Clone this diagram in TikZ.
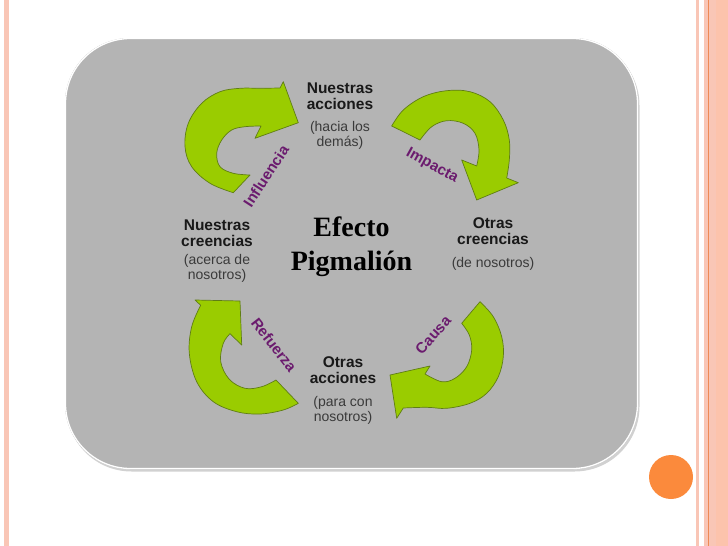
\documentclass[tikz,border=0pt]{standalone}
\usepackage{fontspec}
\setmainfont{Liberation Sans}
\newfontfamily\timesf{Liberation Serif}
\definecolor{bggray}{HTML}{B4B4B4}
\definecolor{arrowgreen}{HTML}{9ACC00}
\definecolor{arrowedge}{HTML}{5F7D14}
\definecolor{lblpurple}{HTML}{6B1B6E}
\definecolor{stripepink}{HTML}{F9C6B6}
\definecolor{stripesalmon}{HTML}{FCC3AC}
\definecolor{stripeorange}{HTML}{EE8A55}
\definecolor{dotorange}{HTML}{FB8A3C}
\definecolor{subgray}{HTML}{3A3A3A}
\begin{document}
\begin{tikzpicture}[x=1pt,y=-1pt,
  cyclearrow/.style={fill=arrowgreen,draw=arrowedge,line width=0.7pt,line join=round},
  headtext/.style={font=\bfseries\fontsize{15.5}{15.5}\selectfont,text=black!90,align=center,inner sep=0pt},
  subtext/.style={font=\fontsize{14}{15}\selectfont,text=subgray,align=center,inner sep=0pt},
  verbtext/.style={font=\bfseries\fontsize{15}{15}\selectfont,text=lblpurple,inner sep=0pt},
  titletext/.style={font=\timesf\bfseries\fontsize{28}{34}\selectfont,align=center,inner sep=0pt}]
\useasboundingbox (0,0) rectangle (728,546);
% page decorations
\fill[stripepink] (4,0) rectangle (9,546);
\fill[stripepink] (696,0) rectangle (699,546);
\fill[stripepink] (704,0) rectangle (716,546);
\fill[stripesalmon] (716,0) rectangle (728,546);
\fill[stripeorange] (708,0) rectangle (709.4,546);
\fill[dotorange] (671,477) circle[radius=22];
% gray panel
\fill[black!45,opacity=0.4,rounded corners=65pt] (66.5,40.5) rectangle (639.5,471.5);
\fill[bggray,rounded corners=65pt] (65,38) rectangle (638,469);
\draw[white,line width=1.3pt,rounded corners=65pt] (65.5,38.5) rectangle (637.5,468.5);
% arrows
\draw[cyclearrow] plot[smooth,tension=0.6] coordinates {(233.3,192.7) (210,183.3) (191.7,166.7) (185,146.7) (188.3,123.3) (201.7,103.3) (220,91.7) (240,88.3) (260,88.3) (280,88)}
  -- (283.3,81.7) -- (298.3,122.7) -- (255,138.3)
  -- plot[smooth,tension=0.6] coordinates {(261,126) (245,126.7) (231.7,130) (221.7,140) (216.7,153.3) (220,166.7) (233.3,173.3) (250,175)} -- cycle;
\draw[cyclearrow] plot[smooth,tension=0.6] coordinates {(391.7,126) (403.3,110) (423.3,96.7) (446.7,90.7) (470,91.7) (490,101.7) (503.3,120) (509.3,140) (509.3,160) (506.7,178)}
  -- (518.3,182.7) -- (476.7,200) -- (461.7,160)
  -- plot[smooth,tension=0.6] coordinates {(476.7,166) (479,150) (475,133.3) (463.3,123.3) (446.7,120.7) (431.7,126.7) (420,140)} -- cycle;
\draw[cyclearrow] plot[smooth,tension=0.6] coordinates {(480,301.7) (493.3,316.7) (501.7,336.7) (503.3,356.7) (498.3,376.7) (486.7,393.3) (470,403.3) (446.7,408.3) (426.7,407.3) (403.3,408)}
  -- (396.7,418.3) -- (390,375) -- (430,366)
  -- plot[smooth,tension=0.6] coordinates {(425,374) (441.7,381.7) (455,378.3) (466.7,366.7) (471.7,350) (469.3,335) (461.7,323.3)} -- cycle;
\draw[cyclearrow] plot[smooth,tension=0.6] coordinates {(298.3,403.3) (283.3,410) (260,414) (236.7,411.7) (213.3,401.7) (196.7,381.7) (189.3,353.3) (191.7,326.7) (200.7,305.3)}
  -- (195,300) -- (240,301) -- (241.7,345)
  -- plot[smooth,tension=0.6] coordinates {(230,333.7) (223.3,343.3) (220.7,361.7) (229.3,379.3) (245,388.3) (261.7,386.7) (276,380)} -- cycle;
% texts
\node[headtext] (na) at (340,96) {Nuestras\\acciones};
\node[subtext] (nas) at (340,135) {(hacia los\\demás)};
\node[headtext] (nc) at (217,233) {Nuestras\\creencias};
\node[subtext] (ncs) at (217,268) {(acerca de\\nosotros)};
\node[headtext] (oc) at (493,231) {Otras\\creencias};
\node[subtext] (ocs) at (493,263.5) {(de nosotros)};
\node[headtext] (oa) at (343,370) {Otras\\acciones};
\node[subtext] (oas) at (343,410) {(para con\\nosotros)};
\node[titletext,text=black] (ef) at (351.5,246.5) {Efecto\\Pigmalión};
% verbs
\node[verbtext,rotate=57] (vi) at (266,176) {Influencia};
\node[verbtext,rotate=-29] (vp) at (432,166) {Impacta};
\node[verbtext,rotate=48] (vc) at (433,335) {Causa};
\node[verbtext,rotate=-52] (vr) at (274,345) {Refuerza};
\end{tikzpicture}
\end{document}
